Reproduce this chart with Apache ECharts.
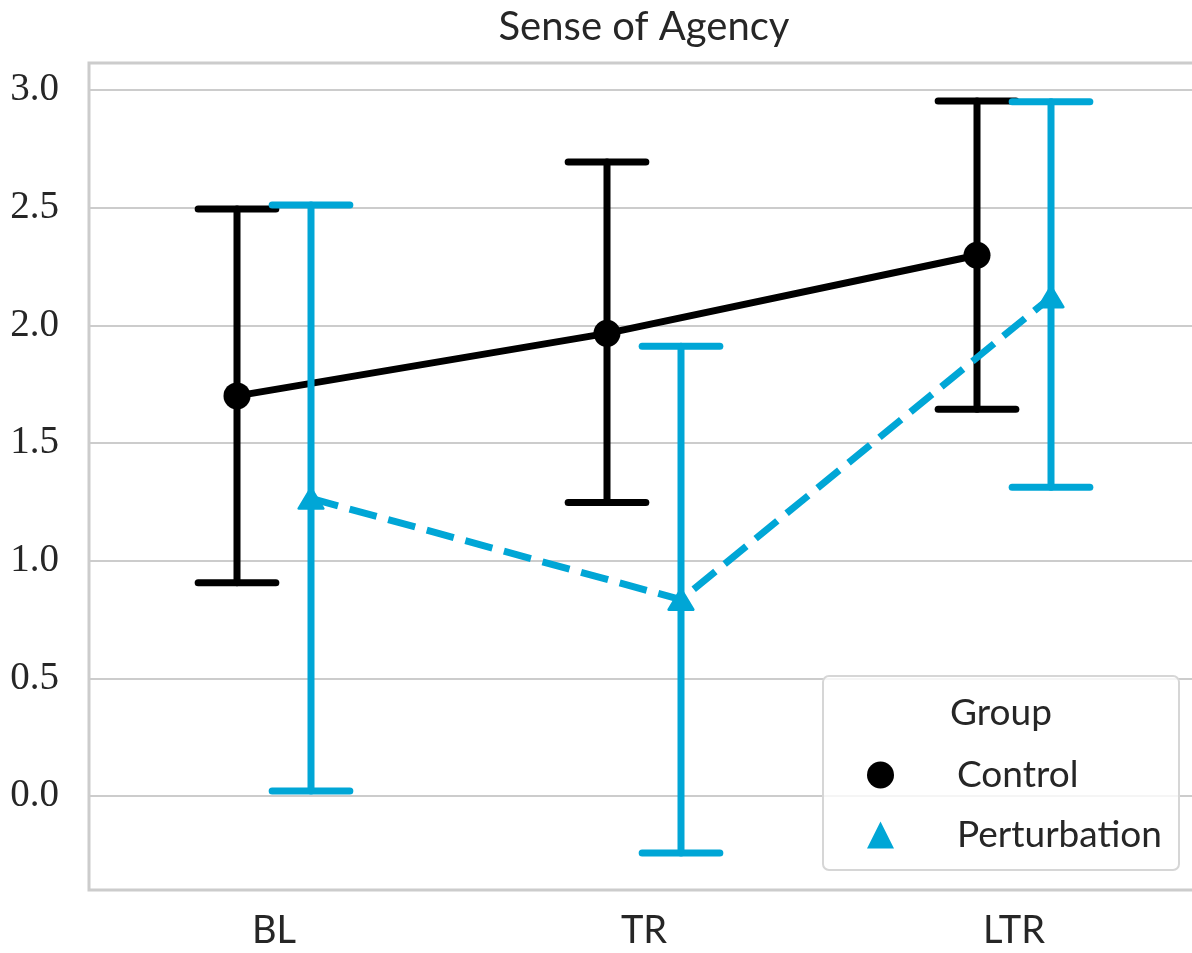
<!DOCTYPE html>
<html>
<head>
<meta charset="utf-8">
<script src="https://cdn.jsdelivr.net/npm/echarts@6/dist/echarts.min.js"></script>
<style>
html, body { margin: 0; padding: 0; background: #ffffff; }
#chart { width: 1192px; height: 953px; }
</style>
</head>
<body>
<div id="chart"></div>
<script>
// ---- data ----
const categories = ['BL', 'TR', 'LTR'];
const controlMean = [1.70, 1.966, 2.298];
const controlLow  = [0.906, 1.247, 1.643];
const controlHigh = [2.494, 2.694, 2.953];
const pertMean = [1.264, 0.834, 2.12];
const pertLow  = [0.021, -0.243, 1.312];
const pertHigh = [2.511, 1.911, 2.95];
const yTicks = [0, 0.5, 1.0, 1.5, 2.0, 2.5, 3.0];
const seriesNames = ['Control', 'Perturbation'];
const titleText = 'Sense of Agency';
const legendTitle = 'Group';

// ---- styling ----
const BLACK = '#000000';
const BLUE = '#00A6D6';
const TEXT = '#262626';
const GRIDC = '#cccccc';
const DODGE = 0.1;
const CAP_HALF = 0.105;
const SANS = 'Lato, "Open Sans", sans-serif';
const SERIF = '"Liberation Serif", "DejaVu Serif", serif';

function pts(means, off) { return means.map((v, i) => [i + off, v]); }
function errs(lo, hi, off) { return lo.map((v, i) => [i + off, v, hi[i]]); }

function errRender(color) {
  return function (params, api) {
    const x = api.value(0), lo = api.value(1), hi = api.value(2);
    const a = api.coord([x, lo]), b = api.coord([x, hi]);
    const hw = api.size([CAP_HALF, 0])[0];
    const st = { stroke: color, lineWidth: 7, lineCap: 'round' };
    return {
      type: 'group',
      children: [
        { type: 'line', shape: { x1: a[0], y1: a[1], x2: b[0], y2: b[1] }, style: st },
        { type: 'line', shape: { x1: a[0] - hw, y1: a[1], x2: a[0] + hw, y2: a[1] }, style: st },
        { type: 'line', shape: { x1: b[0] - hw, y1: b[1], x2: b[0] + hw, y2: b[1] }, style: st }
      ]
    };
  };
}

const chart = echarts.init(document.getElementById('chart'), null, { renderer: 'canvas' });
chart.setOption({
  backgroundColor: '#ffffff',
  animation: false,
  title: {
    text: titleText,
    left: 644,
    top: 7,
    textAlign: 'center',
    padding: 0,
    textStyle: { fontFamily: SANS, fontSize: 40, fontWeight: 'normal', color: TEXT }
  },
  grid: {
    left: 89, top: 63, width: 1110, bottom: 63,
    show: true, borderColor: GRIDC, borderWidth: 3, backgroundColor: 'transparent',
    containLabel: false, outerBoundsMode: 'none'
  },
  xAxis: [
    {
      type: 'category', data: categories, boundaryGap: true,
      axisLine: { show: false }, axisTick: { show: false }, splitLine: { show: false },
      axisLabel: { fontFamily: SANS, fontSize: 38, color: TEXT, margin: 22 }
    },
    { type: 'value', min: -0.5, max: 2.5, show: false }
  ],
  yAxis: {
    type: 'value', min: -0.4, max: 3.115,
    axisLine: { show: false },
    axisTick: { show: false, customValues: yTicks },
    axisLabel: {
      customValues: yTicks, fontFamily: SERIF, fontSize: 39, color: TEXT, margin: 30,
      formatter: v => v.toFixed(1)
    },
    splitLine: { show: true, lineStyle: { color: GRIDC, width: 2 } }
  },
  legend: {
    orient: 'vertical', left: 867, top: 755, padding: 0, itemGap: 20,
    itemWidth: 27, itemHeight: 27, selectedMode: false,
    data: [
      { name: seriesNames[0], icon: 'circle' },
      { name: seriesNames[1], icon: 'triangle' }
    ],
    itemStyle: { borderWidth: 0 },
    textStyle: { fontFamily: SANS, fontSize: 37, color: TEXT, lineHeight: 40, padding: [0, 0, 0, 58] },
    z: 10
  },
  graphic: [
    {
      type: 'rect', z: 8, silent: true,
      shape: { x: 823, y: 676, width: 356, height: 194, r: 6 },
      style: { fill: 'rgba(255,255,255,0.8)', stroke: '#d6d6d6', lineWidth: 2 }
    },
    {
      type: 'text', z: 9, silent: true, x: 1001, y: 713,
      style: { text: legendTitle, fontFamily: SANS, fontSize: 37, fill: TEXT, align: 'center', verticalAlign: 'middle' }
    }
  ],
  series: [
    {
      name: seriesNames[0] + ' CI', type: 'custom', xAxisIndex: 1, z: 2,
      renderItem: errRender(BLACK), data: errs(controlLow, controlHigh, -DODGE),
      encode: { x: 0, y: [1, 2] }
    },
    {
      name: seriesNames[0], type: 'line', xAxisIndex: 1, z: 3,
      data: pts(controlMean, -DODGE),
      symbol: 'circle', symbolSize: 27,
      itemStyle: { color: BLACK, borderWidth: 0 },
      lineStyle: { color: BLACK, width: 7 }
    },
    {
      name: seriesNames[1] + ' CI', type: 'custom', xAxisIndex: 1, z: 4,
      renderItem: errRender(BLUE), data: errs(pertLow, pertHigh, DODGE),
      encode: { x: 0, y: [1, 2] }
    },
    {
      name: seriesNames[1], type: 'line', xAxisIndex: 1, z: 5,
      data: pts(pertMean, DODGE),
      symbol: 'triangle', symbolSize: [24, 20],
      itemStyle: { color: BLUE, borderColor: BLUE, borderWidth: 3, borderJoin: 'round' },
      lineStyle: { color: BLUE, width: 7, type: [28, 12] }
    }
  ]
});
</script>
</body>
</html>
